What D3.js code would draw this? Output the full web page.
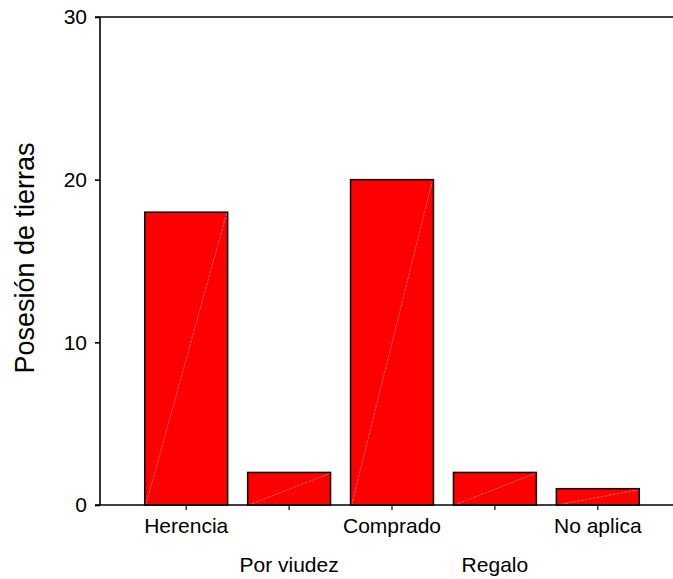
<!DOCTYPE html>
<html>
<head>
<meta charset="utf-8">
<script src="https://cdn.jsdelivr.net/npm/d3@7"></script>
<style>
  html, body { margin: 0; padding: 0; background: #fff; }
  svg { display: block; font-family: "Liberation Sans", Arial, sans-serif; }
</style>
</head>
<body>
<svg id="chart" width="673" height="579"></svg>
<script>
// Land tenure categories and counts
const categories = ["Herencia", "Por viudez", "Comprado", "Regalo", "No aplica"];
const counts = [18, 2, 20, 2, 1];
const yTicks = [0, 10, 20, 30];
const yTitle = "Posesión de tierras";

const svg = d3.select("#chart");

const plot = { left: 100, right: 673, top: 17, bottom: 505 };

const x = d3.scaleBand()
  .domain(categories)
  .range([134.5, 649.5])
  .paddingInner(0.195)
  .paddingOuter(0.1);

const y = d3.scaleLinear()
  .domain([0, 30])
  .range([plot.bottom, plot.top]);

// Bars with a faint diagonal highlight
const bars = svg.append("g");
categories.forEach((c, i) => {
  const x0 = x(c), x1 = x(c) + x.bandwidth();
  const yTop = y(counts[i]), yBase = y(0);
  bars.append("rect")
    .attr("x", x0).attr("y", yTop)
    .attr("width", x.bandwidth()).attr("height", yBase - yTop)
    .attr("fill", "#ff0000");
  bars.append("line")
    .attr("x1", x0 + 1).attr("y1", yBase)
    .attr("x2", x1 - 1).attr("y2", yTop + 1)
    .attr("stroke", "#ff8a8a").attr("stroke-width", 0.7)
    .attr("stroke-dasharray", "3,1");
  bars.append("rect")
    .attr("x", x0).attr("y", yTop)
    .attr("width", x.bandwidth()).attr("height", yBase - yTop)
    .attr("fill", "none").attr("stroke", "#111").attr("stroke-width", 1.6);
});

// Y axis
const yAxis = svg.append("g")
  .attr("transform", `translate(${plot.left},0)`)
  .call(d3.axisLeft(y).tickValues(yTicks).tickSize(5).tickPadding(8).tickFormat(d3.format("d")));
yAxis.select(".domain").attr("stroke", "#000").attr("stroke-width", 1.6)
  .attr("d", `M0,${plot.top}V${plot.bottom}`);
yAxis.selectAll(".tick line").attr("stroke", "#000").attr("stroke-width", 1.6);
yAxis.selectAll(".tick text").attr("font-size", 21).attr("fill", "#000")
  .attr("font-family", "Liberation Sans, Arial, sans-serif");

// Frame top line
svg.append("line")
  .attr("x1", plot.left - 5).attr("y1", plot.top)
  .attr("x2", plot.right).attr("y2", plot.top)
  .attr("stroke", "#000").attr("stroke-width", 1.6);

// X axis with staggered labels
const xAxis = svg.append("g")
  .attr("transform", `translate(0,${plot.bottom})`)
  .call(d3.axisBottom(x).tickSize(5).tickPadding(8));
xAxis.select(".domain").attr("stroke", "#000").attr("stroke-width", 1.6)
  .attr("d", `M${plot.left - 5},0H${plot.right}`);
xAxis.selectAll(".tick line").attr("stroke", "#000").attr("stroke-width", 1.2);
xAxis.selectAll(".tick text")
  .attr("font-size", 21).attr("fill", "#000")
  .attr("font-family", "Liberation Sans, Arial, sans-serif")
  .attr("dy", null)
  .attr("y", (d, i) => i % 2 === 0 ? 28 : 67);

// Y title
svg.append("text")
  .attr("transform", `translate(34,258) rotate(-90)`)
  .attr("text-anchor", "middle")
  .attr("font-size", 27)
  .attr("fill", "#000")
  .text(yTitle);
</script>
</body>
</html>
